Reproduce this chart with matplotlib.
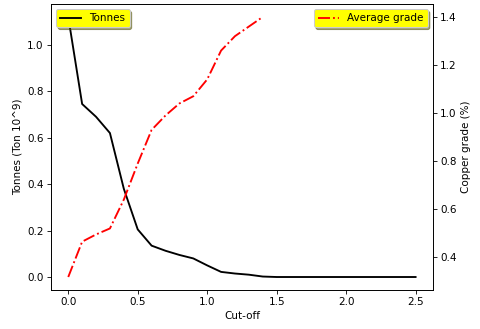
import numpy as np
import matplotlib
matplotlib.use('Agg')
import matplotlib.pyplot as plt

# cut-off grades
cutoff = [0.0, 0.1, 0.2, 0.3, 0.4, 0.5, 0.6, 0.7, 0.8, 0.9, 1.0, 1.1, 1.2,
          1.3, 1.4, 1.5, 1.6, 1.7, 1.8, 1.9, 2.0, 2.1, 2.2, 2.3, 2.4, 2.5]
tonnes = [1.12, 0.745, 0.69, 0.62, 0.38, 0.205, 0.135, 0.113, 0.095, 0.08,
          0.05, 0.022, 0.015, 0.01, 0.002, 0.0, 0.0, 0.0, 0.0, 0.0, 0.0,
          0.0, 0.0, 0.0, 0.0, 0.0]
grade = [0.318, 0.465, 0.495, 0.52, 0.64, 0.79, 0.93, 0.99, 1.04, 1.07,
         1.14, 1.26, 1.32, 1.36, 1.40] + [np.nan] * 11

fig, ax = plt.subplots(figsize=(6.4, 4.387), dpi=75)
ax.plot(cutoff, tonnes, 'k-', lw=1.8, label='Tonnes')
ax.set_xlabel('Cut-off')
ax.set_ylabel('Tonnes (Ton 10^9)')
ax.legend(loc='upper left', facecolor='yellow', shadow=True, framealpha=1)

ax2 = ax.twinx()
ax2.plot(cutoff, grade, 'r-.', lw=1.8, label='Average grade')
ax2.set_ylabel('Copper grade (%)')
ax2.legend(loc='upper right', facecolor='yellow', shadow=True, framealpha=1)

fig.subplots_adjust(left=0.106, right=0.902, top=0.988, bottom=0.1185)
fig.savefig('out.png')
